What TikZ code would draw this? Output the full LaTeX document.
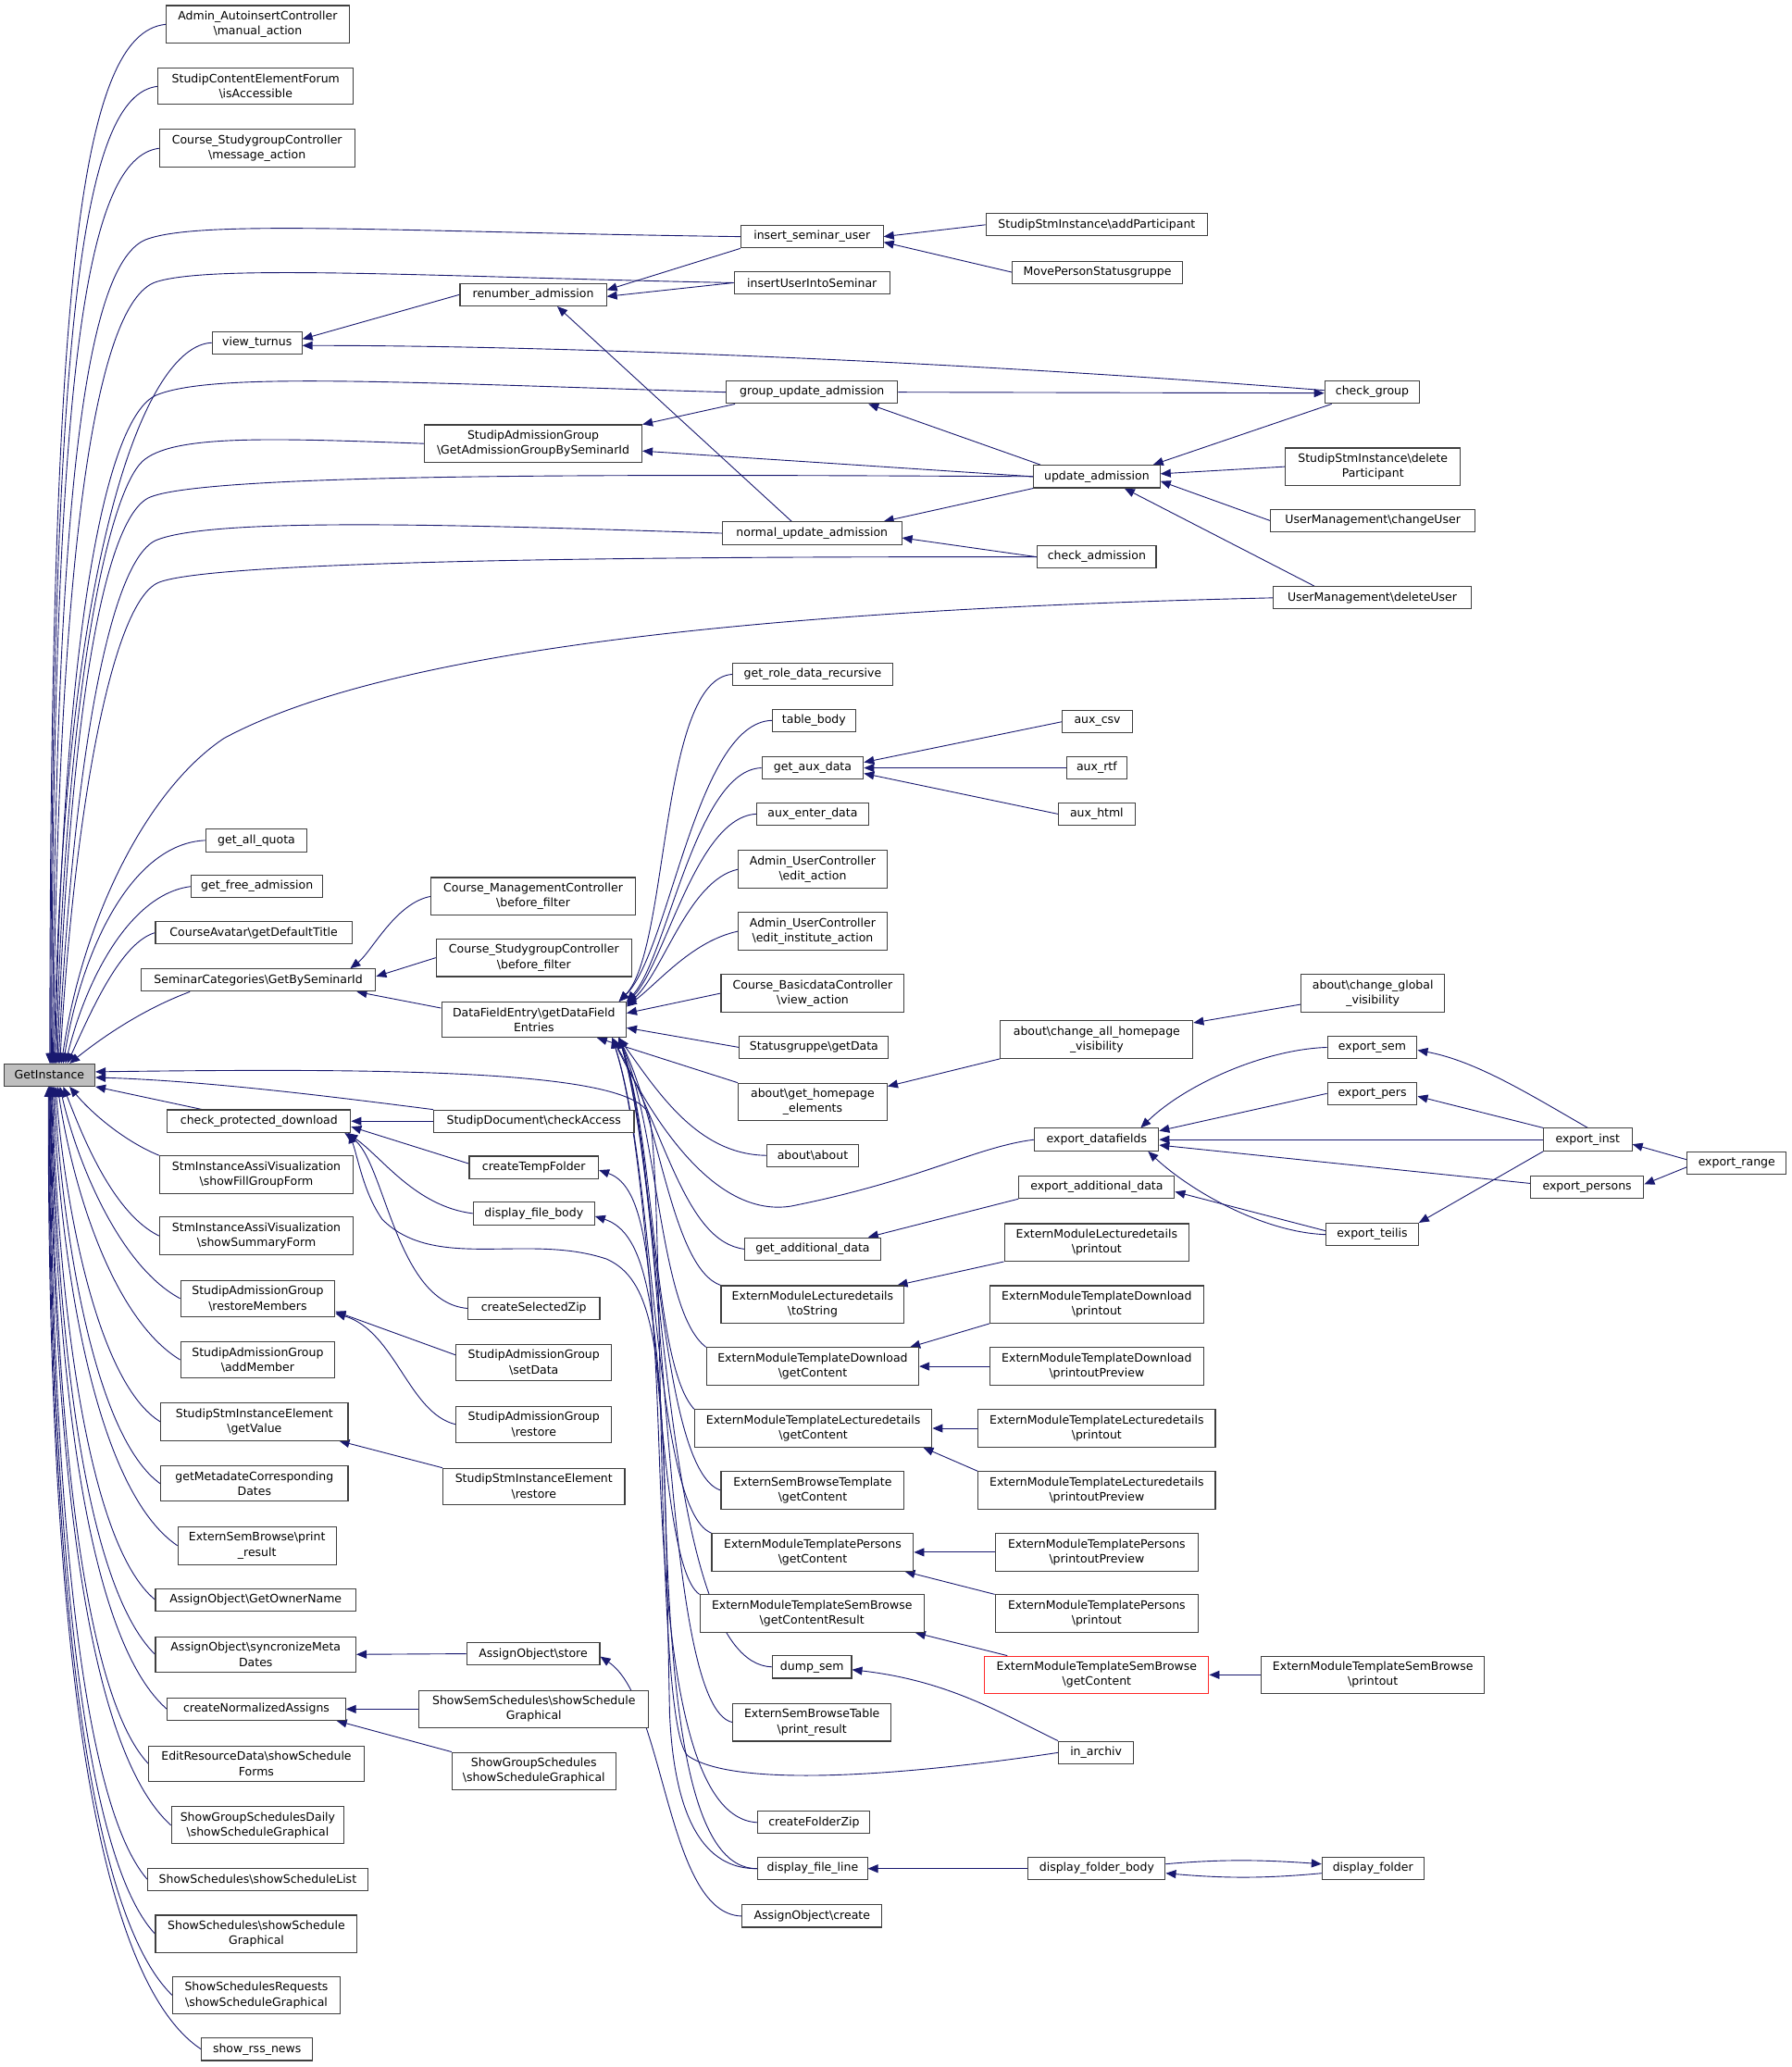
\documentclass[tikz,border=0pt]{standalone}
\usepackage{fontspec}
\newfontfamily\dvs{DejaVu Sans}
\usetikzlibrary{arrows.meta}
\definecolor{edgec}{RGB}{25,25,112}
\definecolor{bordc}{RGB}{64,64,64}
\definecolor{gfill}{RGB}{191,191,191}
\definecolor{redb}{RGB}{255,40,40}
\newcommand\bsl{\textbackslash}
\newcommand\mknode[6][]{\node[box,#1,minimum width={#5*1.4246pt}] (#2) at (#3,#4) {#6};}
\pgfdeclarelayer{bg}
\pgfsetlayers{bg,main}
\begin{document}
\begin{tikzpicture}[x=1.4246pt,y=-1.4246pt,
 box/.style={draw=bordc,line width=1.1pt,fill=white,align=center,inner xsep=2pt,inner ysep=6pt,minimum height=24pt,font=\dvs\fontsize{12.5pt}{16.3pt}\selectfont},
 e/.style={draw=edgec,line width=0.9pt,-{Triangle[length=11pt,width=9pt]}}]
\useasboundingbox (0,0) rectangle (1359,1568);
% ---- column 1
\mknode[fill=gfill]{G}{37.5}{815.5}{69}{GetInstance}
\mknode{aai}{195.5}{18.5}{139}{Admin\_AutoinsertController\\\bsl manual\_action}
\mknode{scef}{194}{65.5}{148}{StudipContentElementForum\\\bsl isAccessible}
\mknode{csgm}{195}{112.5}{148}{Course\_StudygroupController\\\bsl message\_action}
\mknode{vt}{195}{260}{68}{view\_turnus}
\mknode{gaq}{194.5}{637.5}{77}{get\_all\_quota}
\mknode{gfa}{195}{672.5}{100}{get\_free\_admission}
\mknode{cadt}{192.5}{707.5}{149}{CourseAvatar\bsl getDefaultTitle}
\mknode{scg}{196}{743.5}{178}{SeminarCategories\bsl GetBySeminarId}
\mknode{cpd}{196.5}{850.5}{139}{check\_protected\_download}
\mknode{siaf}{194.5}{891}{147}{StmInstanceAssiVisualization\\\bsl showFillGroupForm}
\mknode{sias}{194.5}{937.5}{147}{StmInstanceAssiVisualization\\\bsl showSummaryForm}
\mknode{sarm}{195.5}{985}{117}{StudipAdmissionGroup\\\bsl restoreMembers}
\mknode{saam}{195.5}{1031.5}{117}{StudipAdmissionGroup\\\bsl addMember}
\mknode{ssgv}{193}{1078.5}{142}{StudipStmInstanceElement\\\bsl getValue}
\mknode{gmcd}{193}{1125.5}{142}{getMetadateCorresponding\\Dates}
\mknode{esbp}{195}{1172.5}{120}{ExternSemBrowse\bsl print\\\_result}
\mknode{aogo}{194}{1213.5}{152}{AssignObject\bsl GetOwnerName}
\mknode{aosm}{194}{1255}{152}{AssignObject\bsl syncronizeMeta\\Dates}
\mknode{cna}{194.5}{1296.5}{135}{createNormalizedAssigns}
\mknode{erds}{194.5}{1338}{163}{EditResourceData\bsl showSchedule\\Forms}
\mknode{sgsd}{195.5}{1384.5}{131}{ShowGroupSchedulesDaily\\\bsl showScheduleGraphical}
\mknode{sssl}{195.5}{1425.5}{167}{ShowSchedules\bsl showScheduleList}
\mknode{sssg}{194.5}{1467}{153}{ShowSchedules\bsl showSchedule\\Graphical}
\mknode{ssrg}{194.5}{1513.5}{127}{ShowSchedulesRequests\\\bsl showScheduleGraphical}
\mknode{srn}{195}{1554.5}{84}{show\_rss\_news}
% ---- column 2
\mknode{ra}{404.5}{223.5}{111}{renumber\_admission}
\mknode{sagb}{404.5}{336.5}{165}{StudipAdmissionGroup\\\bsl GetAdmissionGroupBySeminarId}
\mknode{cmbf}{404.5}{680}{155}{Course\_ManagementController\\\bsl before\_filter}
\mknode{csbf}{405}{726.5}{148}{Course\_StudygroupController\\\bsl before\_filter}
\mknode{dfe}{405}{773.5}{140}{DataFieldEntry\bsl getDataField\\Entries}
\mknode{sdca}{405}{850.5}{152}{StudipDocument\bsl checkAccess}
\mknode{ctf}{405}{885.5}{98}{createTempFolder}
\mknode{dfb}{405}{920.5}{92}{display\_file\_body}
\mknode{csz}{405}{992.5}{100}{createSelectedZip}
\mknode{sasd}{405}{1033.5}{118}{StudipAdmissionGroup\\\bsl setData}
\mknode{sar}{405}{1080.5}{118}{StudipAdmissionGroup\\\bsl restore}
\mknode{sser}{405}{1127.5}{138}{StudipStmInstanceElement\\\bsl restore}
\mknode{aos}{404.5}{1254.5}{101}{AssignObject\bsl store}
\mknode{sssgb}{405}{1296.5}{174}{ShowSemSchedules\bsl showSchedule\\Graphical}
\mknode{sgsg}{405}{1343.5}{124}{ShowGroupSchedules\\\bsl showScheduleGraphical}
% ---- column 3
\mknode{isu}{616}{179.5}{108}{insert\_seminar\_user}
\mknode{iuis}{616}{214.5}{118}{insertUserIntoSeminar}
\mknode{gua}{616}{297.5}{130}{group\_update\_admission}
\mknode{nua}{616}{404.5}{136}{normal\_update\_admission}
\mknode{grdr}{616.5}{511.5}{121}{get\_role\_data\_recursive}
\mknode{tb}{617.5}{546.5}{63}{table\_body}
\mknode{gad}{616.5}{582.5}{77}{get\_aux\_data}
\mknode{aed}{616.5}{617.5}{85}{aux\_enter\_data}
\mknode{auea}{616.5}{659.5}{113}{Admin\_UserController\\\bsl edit\_action}
\mknode{auia}{616.5}{706.5}{113}{Admin\_UserController\\\bsl edit\_institute\_action}
\mknode{cbva}{616.5}{753.5}{139}{Course\_BasicdataController\\\bsl view\_action}
\mknode{sgd}{617.5}{794.5}{113}{Statusgruppe\bsl getData}
\mknode{aghe}{616.5}{836}{113}{about\bsl get\_homepage\\\_elements}
\mknode{aa}{616.5}{876.5}{69}{about\bsl about}
\mknode{gadd}{616.5}{947.5}{103}{get\_additional\_data}
\mknode{emlt}{616.5}{989.5}{139}{ExternModuleLecturedetails\\\bsl toString}
\mknode{emtdg}{616.5}{1036.5}{161}{ExternModuleTemplateDownload\\\bsl getContent}
\mknode{emtlg}{617}{1083.5}{180}{ExternModuleTemplateLecturedetails\\\bsl getContent}
\mknode{esbtg}{616.5}{1130.5}{139}{ExternSemBrowseTemplate\\\bsl getContent}
\mknode{emtpg}{616.5}{1177.5}{153}{ExternModuleTemplatePersons\\\bsl getContent}
\mknode{emtsr}{616}{1224}{170}{ExternModuleTemplateSemBrowse\\\bsl getContentResult}
\mknode{ds}{616}{1264.5}{60}{dump\_sem}
\mknode{esbt}{616}{1306.5}{120}{ExternSemBrowseTable\\\bsl print\_result}
\mknode{cfz}{617.5}{1382.5}{85}{createFolderZip}
\mknode{dfl}{616.5}{1417.5}{83}{display\_file\_line}
\mknode{aoc}{616}{1453.5}{106}{AssignObject\bsl create}
% ---- column 4
\mknode{sap}{832}{170.5}{168}{StudipStmInstance\bsl addParticipant}
\mknode{mps}{832.5}{206.5}{129}{MovePersonStatusgruppe}
\mknode{ua}{832}{361.5}{96}{update\_admission}
\mknode{ca}{832}{422.5}{90}{check\_admission}
\mknode{acsv}{832.5}{547.5}{53}{aux\_csv}
\mknode{artf}{832}{582.5}{46}{aux\_rtf}
\mknode{ahtml}{832}{617.5}{58}{aux\_html}
\mknode{acahv}{832}{788.5}{146}{about\bsl change\_all\_homepage\\\_visibility}
\mknode{edf}{832}{864.5}{94}{export\_datafields}
\mknode{ead}{832}{900.5}{118}{export\_additional\_data}
\mknode{emlp}{832}{942.5}{140}{ExternModuleLecturedetails\\\bsl printout}
\mknode{emtdp}{832}{989.5}{162}{ExternModuleTemplateDownload\\\bsl printout}
\mknode{emtdpp}{832}{1036.5}{162}{ExternModuleTemplateDownload\\\bsl printoutPreview}
\mknode{emtlp}{832}{1083.5}{180}{ExternModuleTemplateLecturedetails\\\bsl printout}
\mknode{emtlpp}{832}{1130.5}{180}{ExternModuleTemplateLecturedetails\\\bsl printoutPreview}
\mknode{emtppp}{832}{1177.5}{154}{ExternModuleTemplatePersons\\\bsl printoutPreview}
\mknode{emtpp}{832}{1224}{154}{ExternModuleTemplatePersons\\\bsl printout}
\mknode[draw=redb]{emtsg}{832}{1270.5}{170}{ExternModuleTemplateSemBrowse\\\bsl getContent}
\mknode{ia}{831.5}{1329.5}{57}{in\_archiv}
\mknode{dfob}{832}{1417.5}{104}{display\_folder\_body}
% ---- column 5
\mknode{cg}{1041}{297.5}{72}{check\_group}
\mknode{sdp}{1041.5}{354}{133}{StudipStmInstance\bsl delete\\Participant}
\mknode{umc}{1041.5}{395}{155}{UserManagement\bsl changeUser}
\mknode{umd}{1041}{453.5}{150}{UserManagement\bsl deleteUser}
\mknode{acgv}{1041.5}{753.5}{109}{about\bsl change\_global\\\_visibility}
\mknode{es}{1041}{794.5}{68}{export\_sem}
\mknode{ep}{1041}{829.5}{68}{export\_pers}
\mknode{et}{1041}{936.5}{70}{export\_teilis}
\mknode{emtsp}{1041.5}{1270.5}{169}{ExternModuleTemplateSemBrowse\\\bsl printout}
\mknode{dfo}{1041.5}{1417.5}{77}{display\_folder}
% ---- columns 6,7
\mknode{ei}{1204.5}{864.5}{67}{export\_inst}
\mknode{eps}{1204}{900.5}{86}{export\_persons}
\mknode{er}{1317.5}{882.5}{75}{export\_range}

\begin{pgfonlayer}{bg}
\fill[white] (0,0) rectangle (1359,1568);
% into GetInstance from above
\draw[e] (aai.west) .. controls (60,25) and (38,220) .. (G.88);
\draw[e] (scef.west) .. controls (62,72) and (39,250) .. (G.84);
\draw[e] (csgm.west) .. controls (65,120) and (40,280) .. (G.80);
\draw[e] (isu.west) .. controls (300,176) and (150,166) .. (110,182) .. controls (62,203) and (42,400) .. (G.76);
\draw[e] (iuis.west) .. controls (330,210) and (160,200) .. (118,214) .. controls (72,230) and (44,420) .. (G.72);
\draw[e] (vt.west) .. controls (110,262) and (48,420) .. (G.68);
\draw[e] (gua.west) .. controls (300,290) and (160,282) .. (118,300) .. controls (80,318) and (48,480) .. (G.64);
\draw[e] (sagb.west) .. controls (200,332) and (130,330) .. (108,350) .. controls (82,375) and (50,520) .. (G.60);
\draw[e] (ua.west) .. controls (500,360) and (150,358) .. (112,378) .. controls (76,398) and (52,560) .. (G.56);
\draw[e] (nua.west) .. controls (350,398) and (160,392) .. (118,410) .. controls (80,428) and (54,600) .. (G.52);
\draw[e] (ca.west) .. controls (500,422) and (160,425) .. (120,442) .. controls (84,458) and (56,620) .. (G.48);
\draw[e] (umd.west) .. controls (600,462) and (300,490) .. (170,560) .. controls (110,600) and (62,700) .. (G.44);
\draw[e] (gaq.west) .. controls (100,640) and (62,720) .. (G.40);
\draw[e] (gfa.west) .. controls (100,678) and (66,740) .. (G.36);
\draw[e] (cadt.west) .. controls (92,715) and (70,765) .. (G.33);
\draw[e] ([xshift=-74pt]scg.south) .. controls (110,765) and (80,785) .. (G.30);
% into GetInstance from below / right
\draw[e] ([xshift=-62pt]cpd.north) -- (G.south east);
\draw[e] (siaf.north west) .. controls (95,866) and (70,845) .. (G.-30);
\draw[e] (sias.west) .. controls (85,920) and (62,860) .. (G.-40);
\draw[e] (sarm.west) .. controls (90,960) and (58,880) .. (G.-48);
\draw[e] (saam.west) .. controls (85,1000) and (55,900) .. (G.-55);
\draw[e] (ssgv.west) .. controls (75,1050) and (50,920) .. (G.-62);
\draw[e] (gmcd.west) .. controls (72,1090) and (48,940) .. (G.-68);
\draw[e] (esbp.west) .. controls (72,1130) and (46,960) .. (G.-73);
\draw[e] (aogo.west) .. controls (65,1170) and (44,980) .. (G.-77);
\draw[e] (aosm.west) .. controls (62,1200) and (43,1000) .. (G.-80);
\draw[e] (cna.west) .. controls (62,1240) and (42,1020) .. (G.-83);
\draw[e] (erds.west) .. controls (58,1280) and (41,1040) .. (G.-85);
\draw[e] (sgsd.west) .. controls (58,1320) and (40,1060) .. (G.-87);
\draw[e] (sssl.west) .. controls (55,1360) and (39,1080) .. (G.-89);
\draw[e] (sssg.west) .. controls (55,1400) and (38,1100) .. (G.-91);
\draw[e] (ssrg.west) .. controls (55,1440) and (37,1120) .. (G.-93);
\draw[e] (srn.west) .. controls (55,1490) and (36,1140) .. (G.-95);
\draw[e] (sdca.north west) .. controls (260,833) and (160,820) .. (G.-3);
\draw[e] (ia.west) .. controls (700,1345) and (560,1358) .. (522,1332) .. controls (495,1310) and (505,890) .. (492,845) .. controls (478,812) and (300,810) .. (G.4);
% top cluster
\draw[e] (sap.west) -- (isu.east);
\draw[e] (mps.west) -- ([yshift=-6pt]isu.east);
\draw[e] (isu.south west) -- ([yshift=5pt]ra.east);
\draw[e] (iuis.west) -- ([yshift=-2pt]ra.east);
\draw[e] ([xshift=-22pt]nua.north) -- ([xshift=26pt]ra.south);
\draw[e] (ra.west) -- ([yshift=4pt]vt.east);
\draw[e] ([yshift=2pt]cg.west) .. controls (700,272) and (400,262) .. ([yshift=-3pt]vt.east);
\draw[e] (gua.east) -- ([yshift=-1pt]cg.west);
\draw[e] ([xshift=8pt]cg.south west) -- ([xshift=-8pt]ua.north east);
\draw[e] ([xshift=8pt]ua.north west) -- ([xshift=61pt]gua.south);
\draw[e] ([xshift=10pt]gua.south west) -- (sagb.north east);
\draw[e] (ua.west) -- ([yshift=-8pt]sagb.east);
\draw[e] (sdp.west) -- ([yshift=3pt]ua.east);
\draw[e] (umc.west) -- ([yshift=-5pt]ua.east);
\draw[e] ([xshift=45pt]umd.north west) -- ([xshift=30pt]ua.south);
\draw[e] (ua.south west) -- ([xshift=-20pt]nua.north east);
\draw[e] (ca.west) -- ([yshift=-5pt]nua.east);
% DataFieldEntry bundle
\draw[e] (grdr.west) .. controls (500,515) and (508,720) .. (dfe.12);
\draw[e] (tb.west) .. controls (528,548) and (508,722) .. (dfe.12);
\draw[e] (gad.west) .. controls (528,584) and (506,726) .. (dfe.11);
\draw[e] (aed.west) .. controls (528,620) and (505,730) .. (dfe.10);
\draw[e] (auea.west) .. controls (522,668) and (503,738) .. (dfe.9);
\draw[e] (auia.west) .. controls (525,714) and (500,745) .. (dfe.8);
\draw[e] (cbva.west) -- (dfe.4);
\draw[e] (sgd.west) -- (dfe.-5);
\draw[e] (aghe.north west) -- (dfe.-16);
\draw[e] (aa.west) .. controls (530,876) and (500,830) .. (dfe.-12);
\draw[e] (edf.west) .. controls (740,870) and (700,895) .. (600,915) .. controls (555,922) and (510,880) .. (dfe.-13);
\draw[e] (gadd.west) .. controls (520,942) and (505,860) .. (dfe.-13);
\draw[e] (emlt.north west) .. controls (510,962) and (500,850) .. (dfe.-12);
\draw[e] (emtdg.north west) .. controls (500,995) and (500,860) .. (dfe.-12);
\draw[e] (emtlg.north west) .. controls (495,1035) and (498,870) .. (dfe.-12);
\draw[e] (esbtg.west) .. controls (500,1115) and (498,880) .. (dfe.-12);
\draw[e] (emtpg.north west) .. controls (495,1145) and (498,890) .. (dfe.-13);
\draw[e] (emtsr.north west) .. controls (495,1185) and (500,900) .. (dfe.-13);
\draw[e] (ds.west) .. controls (500,1262) and (505,900) .. (dfe.-12);
\draw[e] (esbt.west) .. controls (500,1295) and (508,900) .. (dfe.-12);
% SeminarCategories
\draw[e] ([yshift=-7pt]dfe.north west) -- ([xshift=-21pt]scg.south east);
\draw[e] (cmbf.west) .. controls (300,685) and (282,722) .. ([xshift=-28pt]scg.north east);
\draw[e] (csbf.west) -- ([yshift=4pt]scg.east);
% aux / about
\draw[e] (acsv.west) -- ([yshift=6pt]gad.east);
\draw[e] (artf.west) -- (gad.east);
\draw[e] (ahtml.west) -- ([yshift=-6pt]gad.east);
\draw[e] (acahv.south west) -- ([yshift=17pt]aghe.east);
\draw[e] ([yshift=-12pt]acgv.west) -- ([yshift=18pt]acahv.east);
% export
\draw[e] (es.west) .. controls (960,796) and (900,822) .. ([xshift=-20pt]edf.north east);
\draw[e] (ep.west) -- (edf.8);
\draw[e] (ei.west) -- (edf.east);
\draw[e] ([yshift=4pt]eps.west) -- (edf.-5);
\draw[e] (et.west) .. controls (960,935) and (905,905) .. ([xshift=-12pt]edf.south east);
\draw[e] (ei.north) .. controls (1160,830) and (1120,805) .. ([yshift=-3pt]es.east);
\draw[e] (ei.north west) -- ([yshift=-3pt]ep.east);
\draw[e] (ei.south west) -- (et.north east);
\draw[e] ([yshift=4pt]er.west) -- ([yshift=-5pt]ei.east);
\draw[e] ([yshift=-4pt]er.west) -- ([yshift=3pt]eps.east);
\draw[e] ([yshift=4pt]et.west) -- ([yshift=-5pt]ead.east);
\draw[e] (ead.south west) -- ([xshift=-14pt]gadd.north east);
% extern
\draw[e] (emlp.south west) -- ([xshift=-8pt]emlt.north east);
\draw[e] (emtdp.south west) -- ([xshift=-10pt]emtdg.north east);
\draw[e] (emtdpp.west) -- (emtdg.east);
\draw[e] (emtlp.west) -- (emtlg.east);
\draw[e] (emtlpp.north west) -- ([xshift=-10pt]emtlg.south east);
\draw[e] (emtppp.west) -- (emtpg.east);
\draw[e] (emtpp.north west) -- ([xshift=-10pt]emtpg.south east);
\draw[e] ([xshift=25pt]emtsg.north west) -- ([xshift=-10pt]emtsr.south east);
\draw[e] (emtsp.west) -- (emtsg.east);
\draw[e] (ia.north west) .. controls (760,1300) and (720,1275) .. ([yshift=-3pt]ds.east);
% folders
\draw[e] (dfob.west) -- (dfl.east);
\draw[e] ([yshift=5pt]dfob.east) .. controls (930,1410) and (960,1411) .. ([yshift=5pt]dfo.west);
\draw[e] ([yshift=-5pt]dfo.west) .. controls (960,1425) and (930,1425) .. ([yshift=-5pt]dfob.east);
% assign / schedules / admission groups
\draw[e] (aoc.west) .. controls (505,1452) and (505,1290) .. ([yshift=-3pt]aos.east);
\draw[e] (aos.west) -- (aosm.east);
\draw[e] (sssgb.west) -- (cna.east);
\draw[e] (sgsg.north west) -- ([xshift=-10pt]cna.south east);
\draw[e] (sser.north west) -- ([xshift=-10pt]ssgv.south east);
\draw[e] ([yshift=8pt]sasd.west) -- ([yshift=-14pt]sarm.east);
\draw[e] (sar.west) .. controls (310,1072) and (300,1010) .. ([yshift=-16pt]sarm.east);
% check_protected_download
\draw[e] (sdca.west) -- (cpd.east);
\draw[e] ([yshift=4pt]ctf.west) -- ([yshift=-6pt]cpd.east);
\draw[e] (dfb.west) .. controls (315,915) and (290,878) .. ([xshift=-4pt]cpd.south east);
\draw[e] (csz.west) .. controls (300,988) and (292,880) .. ([xshift=-7pt]cpd.south east);
\draw[e] (dfl.west) .. controls (540,1418) and (512,1390) .. (508,1300) .. controls (503,1050) and (505,975) .. (460,955) .. controls (400,935) and (330,965) .. (290,925) .. controls (276,905) and (272,880) .. ([xshift=-2pt]cpd.south east);
\draw[e] (cfz.west) .. controls (520,1380) and (505,1250) .. (500,1100) .. controls (495,960) and (490,900) .. ([yshift=-3pt]ctf.east);
\draw[e] (dfl.west) .. controls (530,1418) and (510,1330) .. (505,1150) .. controls (500,990) and (490,935) .. ([yshift=-3pt]dfb.east);
\end{pgfonlayer}
\end{tikzpicture}
\end{document}
